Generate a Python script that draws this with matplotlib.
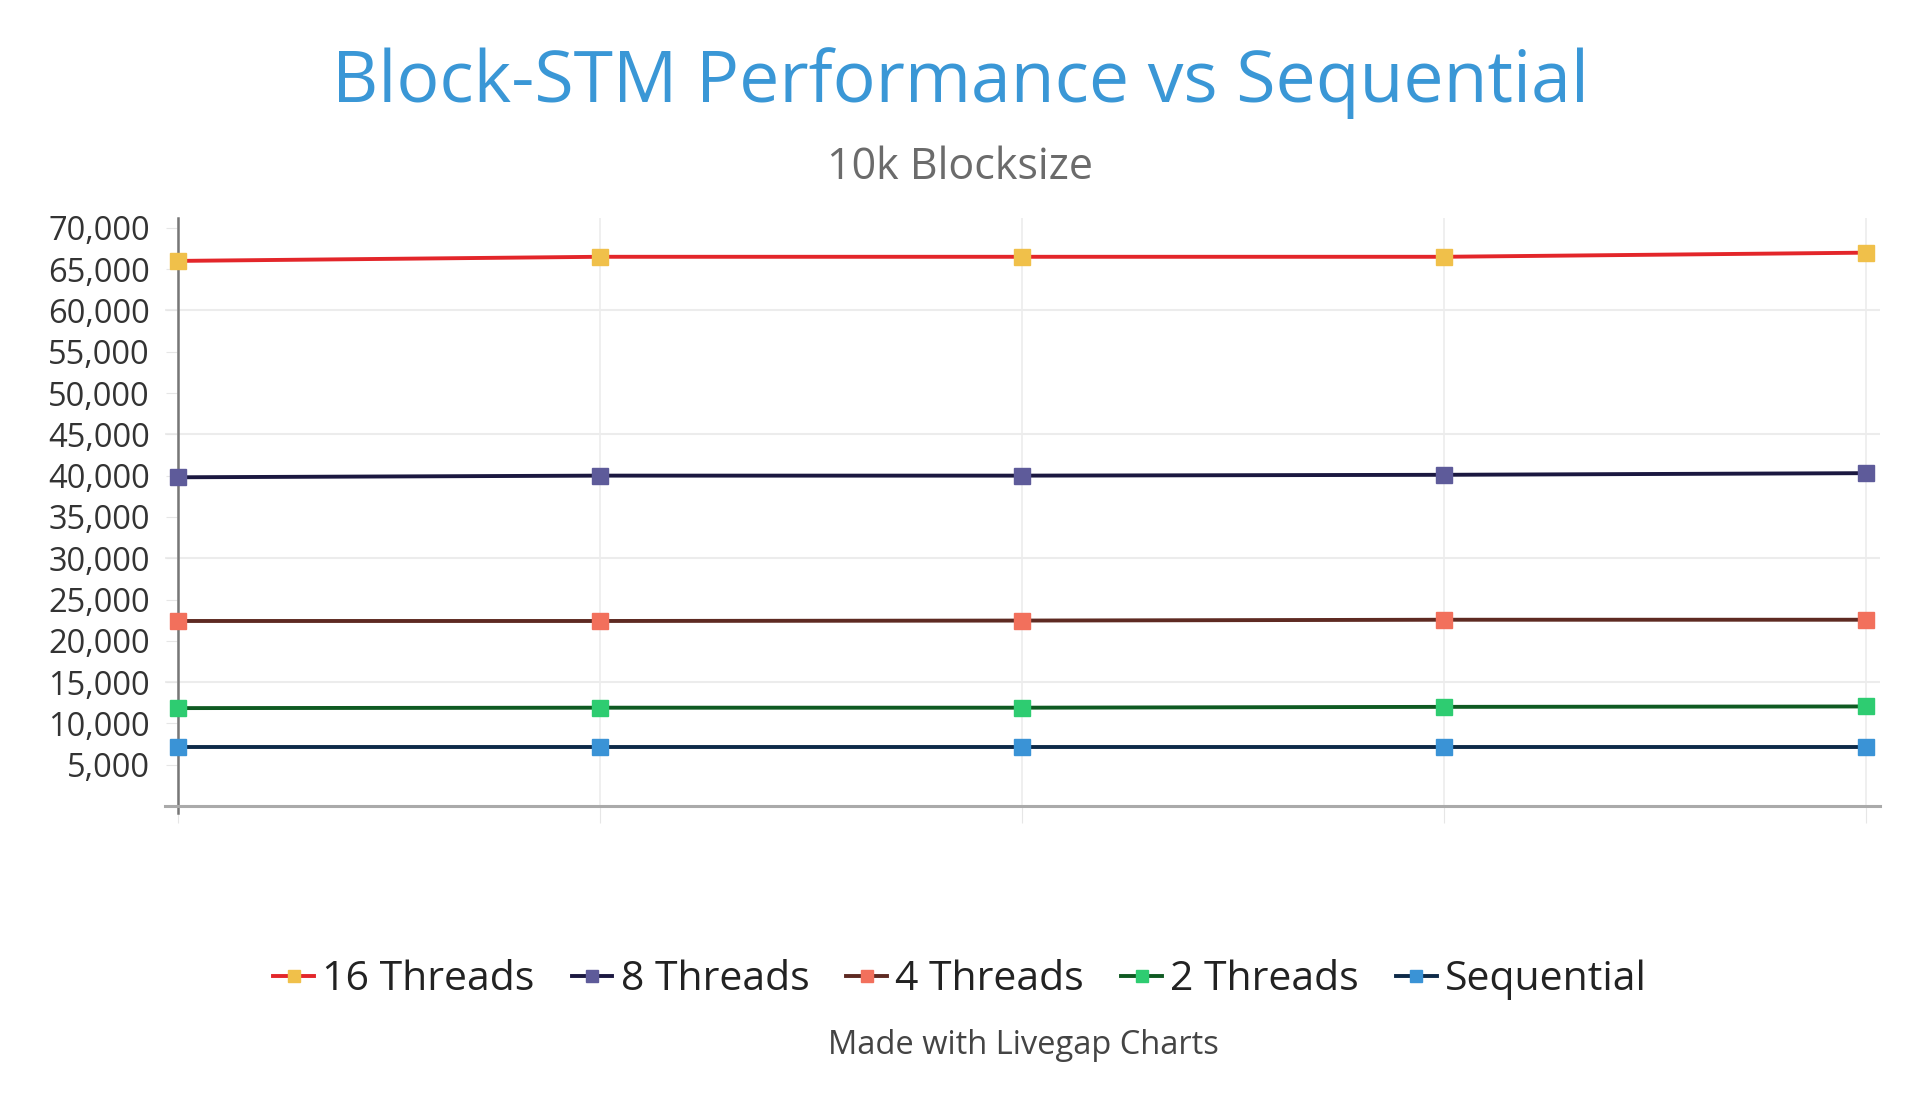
import numpy as np
import matplotlib
matplotlib.use('Agg')
import matplotlib.pyplot as plt
from matplotlib.ticker import FuncFormatter

plt.rcParams['font.family'] = ['Open Sans', 'DejaVu Sans']

# data
runs = [1, 2, 3, 4, 5]
threads_16 = [66000, 66500, 66500, 66500, 67000]
threads_8 = [39800, 40000, 40000, 40100, 40300]
threads_4 = [22400, 22400, 22450, 22550, 22550]
threads_2 = [11850, 11900, 11900, 12000, 12050]
sequential = [7100, 7100, 7100, 7100, 7100]

labels = ['16 Threads', '8 Threads', '4 Threads', '2 Threads', 'Sequential']
line_colors = ['#e3262a', '#1b1840', '#5e2a22', '#0f5a22', '#0d2a48']
marker_colors = ['#f0c04a', '#5e5b9a', '#f2705c', '#2ecc71', '#3a93d6']
series = [threads_16, threads_8, threads_4, threads_2, sequential]

fig = plt.figure(figsize=(19.2, 10.97), dpi=100)
ax = fig.add_axes([0.0859, 0.2653, 0.8933, 0.5360])

x = np.arange(len(runs))
handles = []
for vals, lab, lc, mc in zip(series, labels, line_colors, marker_colors):
    h, = ax.plot(x, vals, color=lc, lw=2.8, marker='s', markersize=11,
                 markerfacecolor=mc, markeredgecolor=mc, label=lab,
                 clip_on=False, zorder=3)
    handles.append(h)

ax.set_xlim(-0.03, 4.033)
ax.set_ylim(0, 71200)

ax.set_yticks(np.arange(5000, 70001, 5000))
ax.yaxis.set_major_formatter(FuncFormatter(lambda v, p: f'{int(v):,}'))
ax.tick_params(axis='y', length=9, color='#e6e6e6', labelsize=23.5,
               labelcolor='#333333', pad=11)
ax.set_xticks(x)
ax.set_xticklabels([])
ax.tick_params(axis='x', length=12, color='#e6e6e6')

for g in [15000, 30000, 45000, 60000]:
    ax.axhline(g, color='#ececec', lw=1.5, zorder=1)
ax.grid(axis='x', color='#ececec', lw=1.2, zorder=1)

for s in ['top', 'right']:
    ax.spines[s].set_visible(False)
ax.spines['left'].set_position(('data', 0))
ax.spines['left'].set_color('#777777')
ax.spines['left'].set_linewidth(1.8)
ax.spines['left'].set_bounds(-900, 71200)
ax.spines['bottom'].set_color('#aaaaaa')
ax.spines['bottom'].set_linewidth(2.2)

fig.text(0.5, 0.924, 'Block-STM Performance vs Sequential', ha='center',
         va='center', fontsize=51.5, color='#3a97d6')
fig.text(0.5, 0.847, '10k Blocksize', ha='center', va='center',
         fontsize=31, color='#6b6b6b')

fig.legend(handles=handles, labels=labels, loc='center',
           bbox_to_anchor=(0.5, 0.107), ncol=5, frameon=False,
           fontsize=29.5, handlelength=1.0, handletextpad=0.2,
           columnspacing=0.9, numpoints=1, markerscale=0.8,
           labelcolor='#222222')

fig.text(0.533, 0.047, 'Made with Livegap Charts', ha='center', va='center',
         fontsize=23.5, color='#444444')

fig.savefig('out.png', dpi=100, facecolor='white')
